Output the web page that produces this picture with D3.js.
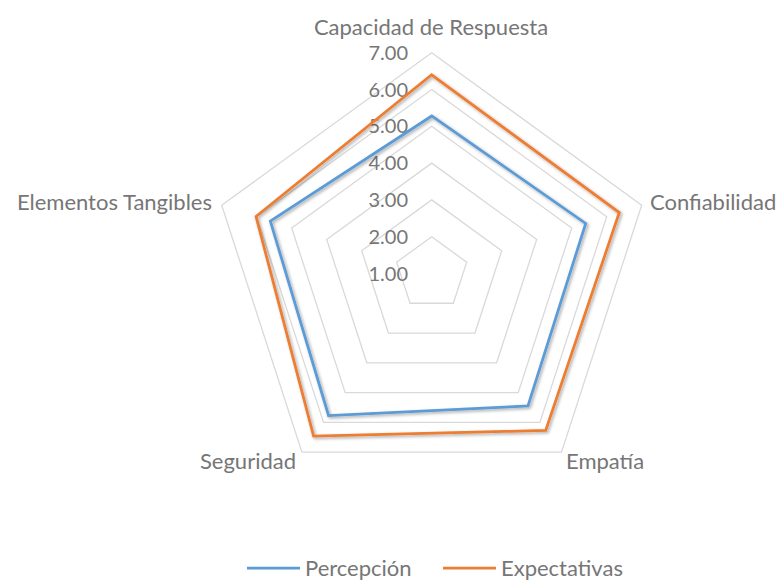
<!DOCTYPE html>
<html><head><meta charset="utf-8">
<script src="https://cdn.jsdelivr.net/npm/d3@7/dist/d3.min.js"></script>
<style>body{margin:0;background:#fff}svg{display:block}text{font-family:Lato,"Open Sans",sans-serif;fill:#767676}</style>
</head><body><svg id="c" width="780" height="580"></svg>
<script>
const categories = ["Capacidad de Respuesta","Confiabilidad","Empatía","Seguridad","Elementos Tangibles"];
const seriesNames = ["Percepción","Expectativas"];
const percepcion = [5.28,5.40,5.45,5.77,5.61];
const expectativas = [6.40,6.36,6.27,6.46,6.02];
const tickValues = [1,2,3,4,5,6,7];
const colors = ["#5b9bd5","#ed7d31"];

const svg = d3.select("#c");
const cx = 431.7, cy = 273.5;
const r = d3.scaleLinear().domain([1,7]).range([0,220.8]);
const ang = d3.scaleLinear().domain([0,categories.length]).range([0,2*Math.PI]);
const pt = (i,v)=>[cx+r(v)*Math.sin(ang(i)), cy-r(v)*Math.cos(ang(i))];

const defs = svg.append("defs");
const f = defs.append("filter").attr("id","sh").attr("x","-20%").attr("y","-20%").attr("width","140%").attr("height","140%");
f.append("feDropShadow").attr("dx",1.5).attr("dy",1.5).attr("stdDeviation",1.5).attr("flood-color","#000").attr("flood-opacity",0.35);

const line = d3.line().curve(d3.curveLinearClosed);
svg.append("g").selectAll("path").data(tickValues.slice(1)).join("path")
  .attr("d",v=>line(categories.map((c,i)=>pt(i,v))))
  .attr("fill","none").attr("stroke","#d9d9d9").attr("stroke-width",1.3);

svg.append("g").selectAll("text").data(tickValues).join("text")
  .attr("x",408).attr("y",v=>cy-r(v)).attr("dy","0.35em").attr("text-anchor","end")
  .attr("font-size",20).text(v=>v.toFixed(2));

const data = [percepcion, expectativas];
svg.append("g").selectAll("path").data(data).join("path")
  .attr("d",d=>line(d.map((v,i)=>pt(i,v))))
  .attr("fill","none").attr("stroke",(d,i)=>colors[i]).attr("stroke-width",2.75)
  .attr("stroke-linejoin","miter").attr("filter","url(#sh)");

const labelPos = [
  {x:431,y:27,a:"middle"},
  {x:650,y:202,a:"start"},
  {x:566,y:461,a:"start"},
  {x:296,y:461,a:"end"},
  {x:212,y:202,a:"end"}
];
svg.append("g").selectAll("text").data(categories).join("text")
  .attr("x",(d,i)=>labelPos[i].x).attr("y",(d,i)=>labelPos[i].y).attr("dy","0.35em")
  .attr("text-anchor",(d,i)=>labelPos[i].a).attr("font-size",22).text(d=>d);

const lg = svg.append("g");
const lx = [247,443];
seriesNames.forEach((n,i)=>{
  lg.append("line").attr("x1",lx[i]).attr("x2",lx[i]+53).attr("y1",568).attr("y2",568)
    .attr("stroke",colors[i]).attr("stroke-width",2.75);
  lg.append("text").attr("x",lx[i]+58).attr("y",568).attr("dy","0.35em").attr("font-size",22).text(n);
});
</script></body></html>
